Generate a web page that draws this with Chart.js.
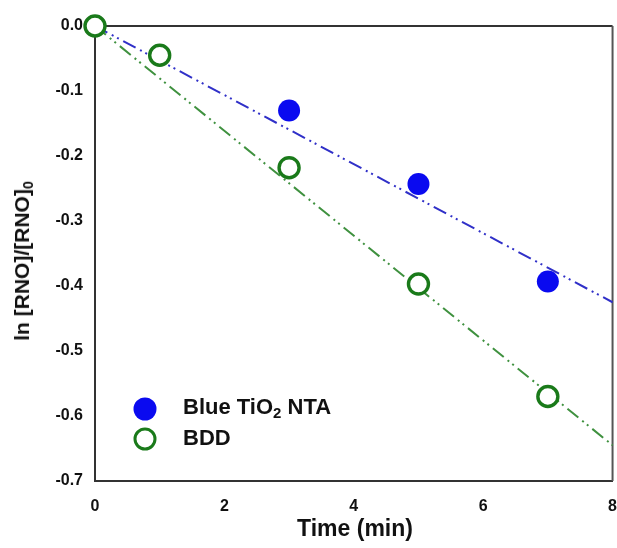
<!DOCTYPE html>
<html>
<head>
<meta charset="utf-8">
<script src="https://cdn.jsdelivr.net/npm/chart.js@4"></script>
<style>
  html, body { margin: 0; padding: 0; background: #fff; }
  #wrap { position: relative; width: 617px; height: 548px; overflow: hidden; }
  canvas { position: absolute; left: 0; top: 0; }
  .t { position: absolute; font-family: "Liberation Sans", Arial, sans-serif; font-weight: bold; color: #111; white-space: nowrap; }
  .ytitle { left: 22px; top: 261px; font-size: 21px; transform: translate(-50%, -50%) rotate(-90deg); }
  .xtitle { left: 355px; top: 528px; font-size: 23px; transform: translate(-50%, -50%); }
  .lg { left: 183px; font-size: 22px; transform: translateY(-50%); }
  .mk { position: absolute; width: 23px; height: 23px; border-radius: 50%; box-sizing: border-box; transform: translate(-50%, -50%); }
  sub { font-size: 0.68em; vertical-align: -0.3em; line-height: 0; }
</style>
</head>
<body>
<div id="wrap">
  <canvas id="c" width="627" height="548"></canvas>
  <div class="t ytitle">ln [RNO]/[RNO]<sub>0</sub></div>
  <div class="t xtitle">Time (min)</div>
  <span class="mk" style="left:145px;top:409px;background:#0a0af0;"></span>
  <div class="t lg" style="top:407px;">Blue TiO<sub>2</sub> NTA</div>
  <span class="mk" style="left:145px;top:439px;border:3px solid #1a7a1a;background:#fff;"></span>
  <div class="t lg" style="top:438px;">BDD</div>
</div>
<script>
const timeMin = [0, 1, 3, 5, 7];
const blueTiO2 = [0, -0.045, -0.13, -0.243, -0.393];
const bdd = [0, -0.045, -0.218, -0.397, -0.57];
const fitX = [0, 8];
const blueFit = [0, -0.425];
const bddFit = [0, -0.645];
const xTicks = [0, 2, 4, 6, 8];
const yTicks = [0, -0.1, -0.2, -0.3, -0.4, -0.5, -0.6, -0.7];

const pts = (xs, ys) => xs.map((x, i) => ({ x: x, y: ys[i] }));

const frame = {
  id: 'frame',
  beforeDatasetsDraw(chart) {
    const { ctx, chartArea: a } = chart;
    ctx.save();
    ctx.strokeStyle = '#333';
    ctx.lineWidth = 2;
    ctx.beginPath();
    ctx.moveTo(a.left, a.top); ctx.lineTo(a.right, a.top);
    ctx.stroke();
    ctx.strokeStyle = '#555';
    ctx.beginPath();
    ctx.moveTo(a.right, a.top); ctx.lineTo(a.right, a.bottom);
    ctx.stroke();
    ctx.restore();
  }
};

const tickFont = { family: 'Liberation Sans', weight: 'bold', size: 16 };

new Chart(document.getElementById('c'), {
  type: 'scatter',
  data: {
    datasets: [
      { label: 'Blue fit', type: 'line', data: pts(fitX, blueFit), borderColor: '#3030c8', borderWidth: 2,
        borderDash: [14, 5, 2, 4, 2, 5], pointRadius: 0, fill: false, clip: false, order: 3 },
      { label: 'BDD fit', type: 'line', data: pts(fitX, bddFit), borderColor: '#3f913f', borderWidth: 2,
        borderDash: [14, 5, 2, 4, 2, 5], pointRadius: 0, fill: false, clip: false, order: 3 },
      { label: 'Blue TiO₂ NTA', data: pts(timeMin, blueTiO2), backgroundColor: '#0a0af0', borderColor: '#0a0af0',
        pointRadius: 11, borderWidth: 0, clip: false, order: 2 },
      { label: 'BDD', data: pts(timeMin, bdd), backgroundColor: '#ffffff', borderColor: '#1a7a1a',
        pointRadius: 10, borderWidth: 3.4, clip: false, order: 1 }
    ]
  },
  options: {
    responsive: false,
    animation: false,
    layout: { padding: { left: 0, right: 5, top: 26, bottom: 0 } },
    plugins: { legend: { display: false }, tooltip: { enabled: false } },
    scales: {
      x: {
        type: 'linear', min: 0, max: 8,
        afterBuildTicks(s) { s.ticks = xTicks.map(v => ({ value: v })); },
        afterFit(s) { s.height = 67; },
        grid: { display: false, drawOnChartArea: false, drawTicks: true, tickLength: 6, tickColor: '#333' },
        border: { display: true, color: '#333', width: 2 },
        ticks: { color: '#111', font: tickFont, padding: 10, callback: v => String(v) },
        title: { display: false }
      },
      y: {
        type: 'linear', min: -0.7, max: 0,
        afterBuildTicks(s) { s.ticks = yTicks.map(v => ({ value: v })); },
        afterFit(s) { s.width = 95; },
        grid: { display: false, drawOnChartArea: false, drawTicks: true, tickLength: 6, tickColor: '#333' },
        border: { display: true, color: '#333', width: 2 },
        ticks: { color: '#111', font: tickFont, padding: 6, callback: v => v.toFixed(1) }
      }
    }
  },
  plugins: [frame]
});
</script>
</body>
</html>
